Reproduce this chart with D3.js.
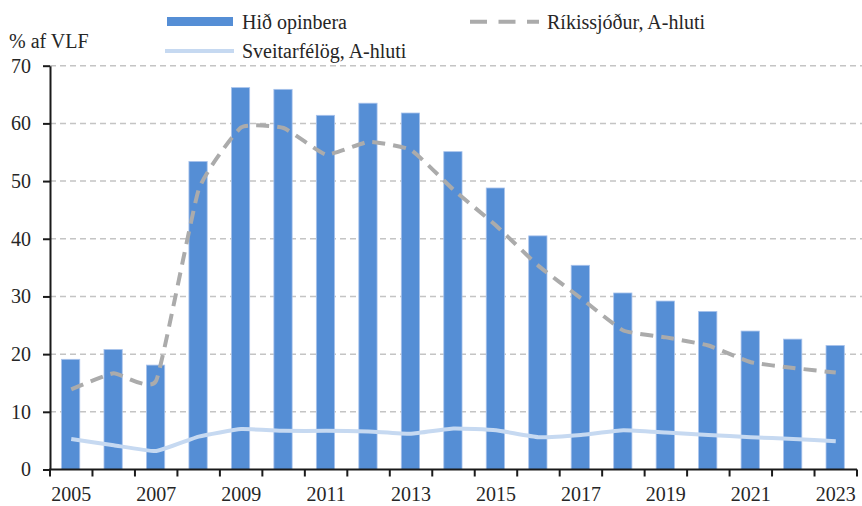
<!DOCTYPE html>
<html lang="is">
<head>
    <meta charset="UTF-8">
    <title>Skuldir</title>
    <style>
        body { margin: 0; background: #fff; }
        svg text { font-family: "Liberation Serif", Tinos, "Times New Roman", "DejaVu Serif", serif; }
        .axis text { font-size: 20px; fill: #262626; }
        .axis path, .axis line { stroke: #1a1a1a; stroke-width: 2; }
    </style>
</head>
<body>
<svg></svg>
<script src="https://d3js.org/d3.v7.min.js"></script>
<script>
    var years = [2005, 2006, 2007, 2008, 2009, 2010, 2011, 2012, 2013, 2014,
        2015, 2016, 2017, 2018, 2019, 2020, 2021, 2022, 2023];
    var opinbera = [19.1, 20.8, 18.1, 53.4, 66.2, 65.9, 61.4, 63.5, 61.8, 55.1,
        48.8, 40.5, 35.4, 30.6, 29.2, 27.4, 24.0, 22.6, 21.5];
    var rikissjodur = [13.9, 16.7, 15.4, 48.5, 59.3, 59.2, 54.6, 56.8, 55.4, 48.5,
        42.3, 35.3, 29.7, 24.1, 22.9, 21.5, 18.6, 17.6, 16.8];
    var sveitarfelog = [5.3, 4.2, 3.2, 5.7, 7.0, 6.7, 6.7, 6.6, 6.2, 7.1,
        6.8, 5.6, 6.0, 6.8, 6.4, 6.0, 5.6, 5.3, 4.9];
    var yTicks = [0, 10, 20, 30, 40, 50, 60, 70];
    var xLabels = [2005, 2007, 2009, 2011, 2013, 2015, 2017, 2019, 2021, 2023];

    var width = 862;
    var height = 506;
    var plotLeft = 50, plotRight = 857, plotTop = 65.7, plotBottom = 469.5;

    var barColor = "#558ed5";
    var lightColor = "#c6d9f1";
    var greyColor = "#ababab";

    var svg = d3.select("svg")
        .attr("width", width)
        .attr("height", height);

    var x = d3.scaleBand().domain(years).range([plotLeft, plotRight]).padding(0);
    var y = d3.scaleLinear().domain([0, 70]).range([plotBottom, plotTop]);
    var barWidth = x.bandwidth() * 0.43;

    // gridlines
    svg.append("g")
        .selectAll("line")
        .data(yTicks.filter(function (d) { return d > 0; }))
        .enter().append("line")
        .attr("x1", plotLeft)
        .attr("x2", width)
        .attr("y1", function (d) { return y(d); })
        .attr("y2", function (d) { return y(d); })
        .style("stroke", "#c4c4c4")
        .style("stroke-width", 1.5)
        .style("stroke-dasharray", "6,4");

    // bars
    svg.append("g")
        .selectAll("rect")
        .data(opinbera)
        .enter().append("rect")
        .attr("x", function (d, i) { return x(years[i]) + (x.bandwidth() - barWidth) / 2 - 0.6; })
        .attr("y", function (d) { return y(d); })
        .attr("width", barWidth)
        .attr("height", function (d) { return y(0) - y(d); })
        .style("fill", barColor)
        .style("stroke", "#a9c3ec")
        .style("stroke-width", 0.8);

    var line = d3.line()
        .x(function (d, i) { return x(years[i]) + x.bandwidth() / 2; })
        .y(function (d) { return y(d); })
        .curve(d3.curveCardinal.tension(0.6));

    svg.append("path")
        .datum(sveitarfelog)
        .attr("d", line)
        .style("fill", "none")
        .style("stroke", lightColor)
        .style("stroke-width", 4);

    svg.append("path")
        .datum(rikissjodur)
        .attr("d", line)
        .style("fill", "none")
        .style("stroke", greyColor)
        .style("stroke-width", 4)
        .style("stroke-dasharray", "13,8");

    // y axis
    svg.append("g")
        .attr("class", "axis")
        .attr("transform", "translate(" + plotLeft + ",0)")
        .call(d3.axisLeft(y).tickValues(yTicks).tickSize(7).tickSizeOuter(0).tickPadding(12));

    // x axis
    var xAxis = svg.append("g")
        .attr("class", "axis")
        .attr("transform", "translate(0," + plotBottom + ")")
        .call(d3.axisBottom(x).tickValues(xLabels).tickSize(0).tickSizeOuter(0).tickPadding(17));
    xAxis.select(".domain").attr("d", "M" + (plotLeft - 1) + ",0H" + plotRight);

    xAxis.append("g")
        .selectAll("line")
        .data(years.concat([null]))
        .enter().append("line")
        .attr("x1", function (d) { return d === null ? plotRight : x(d); })
        .attr("x2", function (d) { return d === null ? plotRight : x(d); })
        .attr("y1", 0)
        .attr("y2", 7);

    // title
    svg.append("text")
        .attr("x", 9)
        .attr("y", 48)
        .style("font-size", "20px")
        .style("fill", "#262626")
        .text("% af VLF");

    // legend
    var legend = svg.append("g").style("font-size", "20px").style("fill", "#262626");
    legend.append("rect")
        .attr("x", 167).attr("y", 17).attr("width", 66).attr("height", 9)
        .style("fill", barColor);
    legend.append("text").attr("x", 242).attr("y", 29).text("Hið opinbera");

    legend.append("line")
        .attr("x1", 165).attr("x2", 234).attr("y1", 51).attr("y2", 51)
        .style("stroke", lightColor).style("stroke-width", 4);
    legend.append("text").attr("x", 242).attr("y", 58).text("Sveitarfélög, A-hluti");

    legend.append("line")
        .attr("x1", 470).attr("x2", 539).attr("y1", 21.7).attr("y2", 21.7)
        .style("stroke", greyColor).style("stroke-width", 4)
        .style("stroke-dasharray", "17,11.5");
    legend.append("text").attr("x", 547).attr("y", 28.5).text("Ríkissjóður, A-hluti");
</script>
</body>
</html>
